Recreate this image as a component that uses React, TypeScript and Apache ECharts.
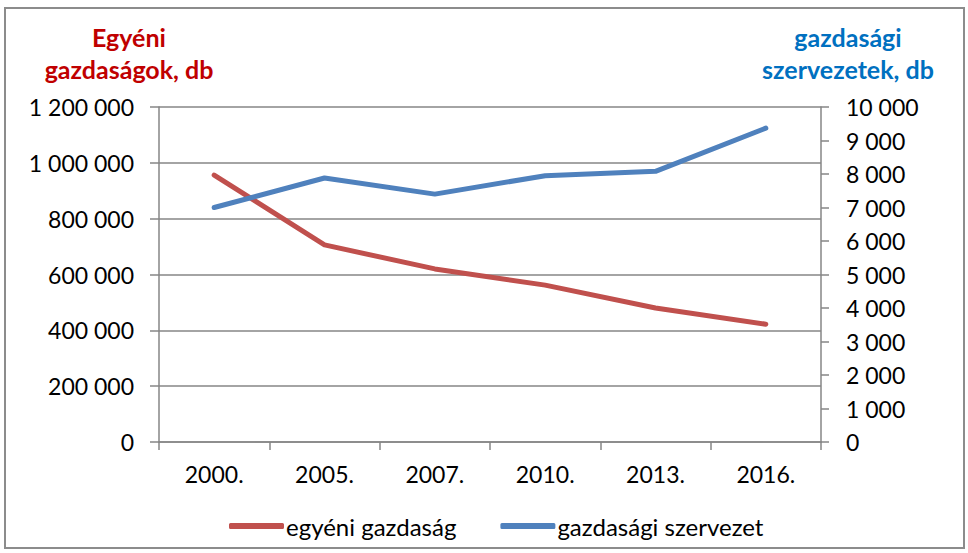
import React, { useEffect, useRef } from "react";
import * as echarts from "echarts";

const categories = ["2000.", "2005.", "2007.", "2010.", "2013.", "2016."];
const egyeniGazdasag = [956000, 706000, 620000, 562000, 480000, 422000];
const gazdasagiSzervezet = [7000, 7880, 7400, 7950, 8080, 9370];
const leftTitle = "Egyéni\ngazdaságok, db";
const rightTitle = "gazdasági\nszervezetek, db";
const seriesNames = ["egyéni gazdaság", "gazdasági szervezet"];

const FONT = "Lato, Roboto, sans-serif";
const fmt = (v: number) => String(v).replace(/\B(?=(\d{3})+(?!\d))/g, " ");

export default function App() {
  const ref = useRef<HTMLDivElement>(null);
  useEffect(() => {
    document.body.style.margin = "0";
    if (!ref.current) return;
    const chart = echarts.init(ref.current, undefined, { renderer: "svg" });
    const gray = "#868686";
    chart.setOption({
      animation: false,
      backgroundColor: "#fff",
      textStyle: { fontFamily: FONT },
      grid: { left: 159, right: 147, top: 107, bottom: 111, containLabel: false },
      graphic: [
        {
          type: "rect",
          shape: { x: 5, y: 8, width: 959, height: 540 },
          style: { fill: "none", stroke: "#8c8c8c", lineWidth: 2 },
          silent: true,
        },
        {
          type: "text",
          x: 129,
          y: 21,
          style: {
            text: leftTitle,
            fill: "#C00000",
            font: `bold 25px ${FONT}`,
            textAlign: "center",
            textVerticalAlign: "top",
            lineHeight: 32,
          },
        },
        {
          type: "text",
          x: 848,
          y: 21,
          style: {
            text: rightTitle,
            fill: "#0070C0",
            font: `bold 25px ${FONT}`,
            textAlign: "center",
            textVerticalAlign: "top",
            lineHeight: 32,
          },
        },
      ],
      legend: {
        top: 509,
        left: 224,
        itemWidth: 55,
        itemHeight: 6,
        itemGap: 44,
        icon: "roundRect",
        textStyle: { fontSize: 24, color: "#000", fontFamily: FONT, lineHeight: 24, padding: [0, 0, 0, -3] },
        data: seriesNames,
      },
      xAxis: {
        type: "category",
        data: categories,
        boundaryGap: true,
        axisLine: { lineStyle: { color: gray, width: 1.5 } },
        axisTick: { show: true, length: 8, lineStyle: { color: gray, width: 1.5 } },
        axisLabel: { fontSize: 23, color: "#000", margin: 20, fontFamily: FONT },
      },
      yAxis: [
        {
          type: "value",
          min: 0,
          max: 1200000,
          interval: 200000,
          axisLine: { show: true, lineStyle: { color: gray, width: 1.5 } },
          axisTick: { show: true, length: 9, lineStyle: { color: gray, width: 1.5 } },
          splitLine: { show: true, lineStyle: { color: gray, width: 1.5 } },
          axisLabel: { fontSize: 23, color: "#000", margin: 25, formatter: fmt, fontFamily: FONT },
        },
        {
          type: "value",
          min: 0,
          max: 10000,
          interval: 1000,
          position: "right",
          axisLine: { show: true, lineStyle: { color: gray, width: 1.5 } },
          axisTick: { show: true, length: 8, lineStyle: { color: gray, width: 1.5 } },
          splitLine: { show: false },
          axisLabel: { fontSize: 23, color: "#000", margin: 25, formatter: fmt, fontFamily: FONT },
        },
      ],
      series: [
        {
          name: seriesNames[0],
          type: "line",
          yAxisIndex: 0,
          data: egyeniGazdasag,
          symbol: "none",
          color: "#C0504D",
          lineStyle: { width: 5, color: "#C0504D", cap: "round", join: "round" },
        },
        {
          name: seriesNames[1],
          type: "line",
          yAxisIndex: 1,
          data: gazdasagiSzervezet,
          symbol: "none",
          color: "#4F81BD",
          lineStyle: { width: 5, color: "#4F81BD", cap: "round", join: "round" },
        },
      ],
    });
    return () => chart.dispose();
  }, []);
  return <div ref={ref} style={{ width: 968, height: 553 }} />;
}
